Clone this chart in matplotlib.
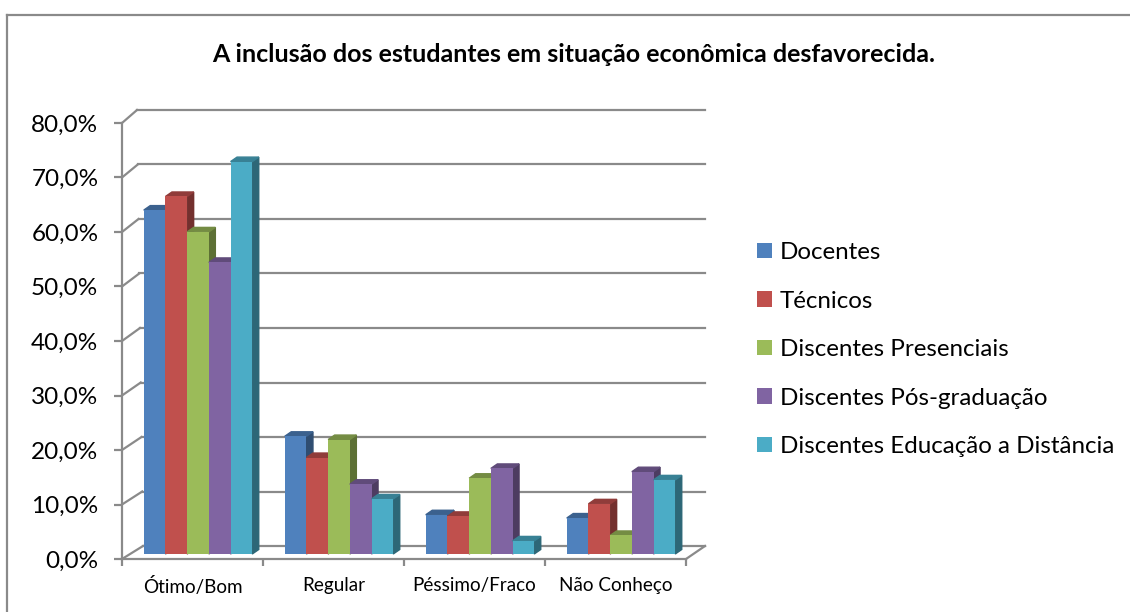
import matplotlib.pyplot as plt
from matplotlib.patches import Polygon
from matplotlib.lines import Line2D
from matplotlib.colors import to_rgb

plt.rcParams["font.family"] = ["Lato", "DejaVu Sans"]

categories = ["Ótimo/Bom", "Regular", "Péssimo/Fraco", "Não Conheço"]
series = [
    "Docentes",
    "Técnicos",
    "Discentes Presenciais",
    "Discentes Pós-graduação",
    "Discentes Educação a Distância",
]
docentes = [63.1, 21.6, 7.2, 6.6]
tecnicos = [65.6, 17.7, 6.9, 9.2]
presenciais = [59.1, 21.0, 13.9, 3.4]
pos_graduacao = [53.5, 12.8, 15.7, 15.1]
ead = [72.0, 10.1, 2.4, 13.6]
values = [docentes, tecnicos, presenciais, pos_graduacao, ead]
colors = ["#4F81BD", "#C0504D", "#9BBB59", "#8064A2", "#4BACC6"]
yticks = [0, 10, 20, 30, 40, 50, 60, 70, 80]

GRAY = "#8a8a8a"
W, H = 1130, 612


def shade(color, f):
    r, g, b = to_rgb(color)
    return (r * f, g * f, b * f)


def main():
    fig = plt.figure(figsize=(W / 100, H / 100), dpi=100)
    # front plane of the 3d box, in pixels
    x0, x1, y0, y1 = 122, 686, 559, 123
    ax = fig.add_axes([x0 / W, 1 - y0 / H, (x1 - x0) / W, (y0 - y1) / H])
    ax.set_xlim(0, 4)
    ax.set_ylim(0, 80)
    px_x = 4 / (x1 - x0)  # data units per pixel
    px_y = 80 / (y0 - y1)

    # back wall gridlines + diagonals
    dy_back = 13 * px_y
    for v in yticks:
        dxl = (21 - 6 * v / 80) * px_x
        ax.add_line(Line2D([0, dxl], [v, v + dy_back], color=GRAY, lw=1.6,
                           clip_on=False, zorder=1))
        ax.add_line(Line2D([dxl, 4 + 19 * px_x], [v + dy_back, v + dy_back],
                           color=GRAY, lw=1.6, clip_on=False, zorder=1))
    ax.add_line(Line2D([4, 4 + 19 * px_x], [0, dy_back], color=GRAY, lw=1.6,
                       clip_on=False, zorder=1))

    # 3d-looking bars
    bw = 21.7 * px_x
    shift = 5.5 * px_x
    base = 5 * px_y
    ddx = 6.5 * px_x
    ddy = 4.5 * px_y
    handles = []
    for i in range(len(categories)):
        for j, vals in enumerate(values):
            xl = i + 0.5 + shift + (j - 2.5) * bw
            xr = xl + bw
            top = base + vals[i]
            z = 3 + j * 0.1
            b = ax.bar(xl, vals[i], width=bw, bottom=base, align="edge",
                       color=colors[j], zorder=z + 0.02, clip_on=False,
                       label=series[j])
            ax.add_patch(Polygon([(xr, base), (xr + ddx, base + ddy),
                                  (xr + ddx, top + ddy), (xr, top)],
                                 closed=True, color=shade(colors[j], 0.6),
                                 zorder=z, clip_on=False))
            ax.add_patch(Polygon([(xl, top), (xl + ddx, top + ddy),
                                  (xr + ddx, top + ddy), (xr, top)],
                                 closed=True, color=shade(colors[j], 0.75),
                                 zorder=z + 0.01, clip_on=False))
            if i == 0:
                handles.append(b)

    for s in ["top", "right"]:
        ax.spines[s].set_visible(False)
    for s in ["left", "bottom"]:
        ax.spines[s].set_color(GRAY)
        ax.spines[s].set_linewidth(1.6)
        ax.spines[s].set_zorder(2)

    ax.set_yticks(yticks)
    ax.set_yticklabels([f"{v:.1f}%".replace(".", ",") for v in yticks])
    ax.tick_params(axis="y", length=6, width=1.6, color=GRAY, pad=11,
                   labelsize=17.5)
    ax.set_xticks([0, 1, 2, 3, 4])
    ax.set_xticklabels([])
    ax.set_xticks([0.5, 1.5, 2.5, 3.5], minor=True)
    ax.set_xticklabels(categories, minor=True)
    ax.tick_params(axis="x", which="major", length=5, width=1.6, color=GRAY)
    ax.tick_params(axis="x", which="minor", length=0, pad=13, labelsize=13.6)

    fig.text(574 / W, 1 - 55 / H,
             "A inclusão dos estudantes em situação econômica desfavorecida.",
             ha="center", va="center", fontsize=18, fontweight="bold")

    fig.legend(handles, series, loc="upper left",
               bbox_to_anchor=(757 / W, 1 - 242 / H), frameon=False,
               fontsize=17.4, handlelength=0.6, handleheight=0.6,
               handletextpad=0.35, labelspacing=1.14, borderpad=0,
               borderaxespad=0)

    # chart border
    fig.add_artist(Line2D([7 / W, 7 / W], [0, 1 - 15 / H], color=GRAY, lw=1.6,
                          transform=fig.transFigure))
    fig.add_artist(Line2D([7 / W, 1], [1 - 15 / H, 1 - 15 / H], color=GRAY,
                          lw=1.6, transform=fig.transFigure))

    fig.savefig("out.png", dpi=100)


if __name__ == "__main__":
    main()
